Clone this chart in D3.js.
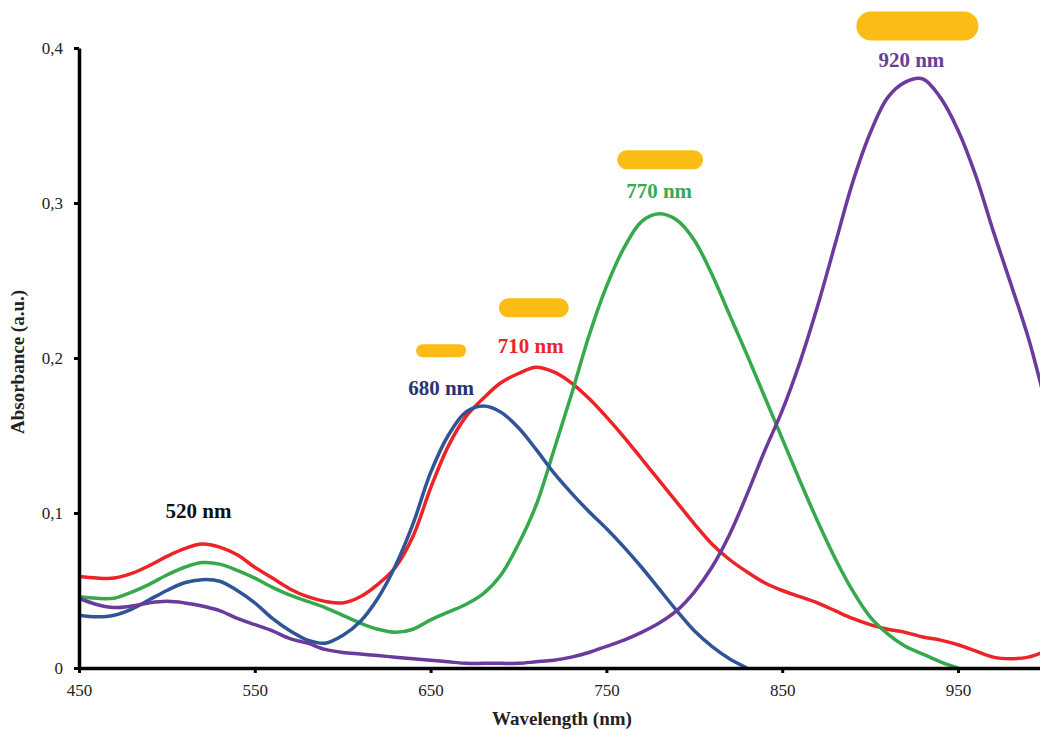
<!DOCTYPE html>
<html>
<head>
<meta charset="utf-8">
<script src="https://cdn.jsdelivr.net/npm/d3@7"></script>
<style>
  body { margin: 0; background: #fff; }
  svg { display: block; font-family: "Liberation Serif", "Times New Roman", serif; }
</style>
</head>
<body>
<div id="chart"></div>
<script>
// Data (wavelength in nm, absorbance in a.u.)
const wavelengths = [450, 460, 470, 480, 490, 500, 510, 520, 530, 540, 550, 560, 570, 580, 590,
  600, 610, 620, 630, 640, 650, 660, 670, 680, 690, 700, 710, 720, 730, 740, 750, 760, 770, 780, 790,
  800, 810, 820, 830, 840, 850, 860, 870, 880, 890, 900, 910, 920, 930, 940, 950, 960, 970, 980, 990, 1000];

const red = [0.059, 0.058, 0.058, 0.061, 0.066, 0.072, 0.077, 0.080, 0.078, 0.073, 0.065, 0.058, 0.051, 0.046, 0.043,
  0.042, 0.046, 0.054, 0.065, 0.085, 0.116, 0.143, 0.162, 0.174, 0.184, 0.190, 0.194, 0.191, 0.184, 0.174, 0.162, 0.149, 0.135, 0.121, 0.107,
  0.093, 0.080, 0.070, 0.062, 0.055, 0.050, 0.046, 0.042, 0.037, 0.032, 0.028, 0.025, 0.023, 0.020, 0.018, 0.015, 0.011, 0.007, 0.006, 0.007, 0.011];

const green = [0.046, 0.045, 0.045, 0.049, 0.054, 0.060, 0.065, 0.068, 0.067, 0.063, 0.058, 0.052, 0.047, 0.043, 0.039,
  0.034, 0.029, 0.025, 0.023, 0.025, 0.031, 0.036, 0.041, 0.048, 0.060, 0.080, 0.105, 0.140, 0.176, 0.214, 0.246, 0.271, 0.288, 0.293, 0.289,
  0.276, 0.254, 0.228, 0.202, 0.175, 0.148, 0.121, 0.095, 0.071, 0.050, 0.033, 0.022, 0.014, 0.009, 0.004, 0.000, null, null, null, null, null];

const blue = [0.034, 0.033, 0.034, 0.038, 0.044, 0.050, 0.055, 0.057, 0.056, 0.050, 0.042, 0.032, 0.024, 0.018, 0.016,
  0.021, 0.030, 0.045, 0.066, 0.093, 0.126, 0.150, 0.165, 0.169, 0.165, 0.155, 0.141, 0.126, 0.113, 0.101, 0.090, 0.078, 0.065, 0.051, 0.037,
  0.024, 0.014, 0.006, 0.000, null, null, null, null, null, null, null, null, null, null, null, null, null, null, null, null, null];

const purple = [0.045, 0.041, 0.039, 0.040, 0.042, 0.043, 0.042, 0.040, 0.037, 0.032, 0.028, 0.024, 0.019, 0.016, 0.012,
  0.010, 0.009, 0.008, 0.007, 0.006, 0.005, 0.004, 0.003, 0.003, 0.003, 0.003, 0.004, 0.005, 0.007, 0.010, 0.014, 0.018, 0.023, 0.029, 0.037,
  0.049, 0.065, 0.086, 0.112, 0.140, 0.166, 0.197, 0.233, 0.273, 0.313, 0.345, 0.368, 0.378, 0.380, 0.368, 0.347, 0.318, 0.282, 0.248, 0.213, 0.170];

const series = [
  { name: "520/710 nm", values: red, color: "#ec2327" },
  { name: "770 nm", values: green, color: "#35a94c" },
  { name: "680 nm", values: blue, color: "#2f5597" },
  { name: "920 nm", values: purple, color: "#6a3a9c" }
];

const xTicks = [450, 550, 650, 750, 850, 950];
const yTicks = [0, 0.1, 0.2, 0.3, 0.4];

// Peak labels: text, wavelength, absorbance where the text baseline sits
const peakLabels = ["520 nm", "680 nm", "710 nm", "770 nm", "920 nm"];
const peakLabelNm = [518, 656, 707, 780, 923.5];
const peakLabelAbs = [0.097, 0.176, 0.203, 0.303, 0.388];
const peakLabelColors = ["#111111", "#2b3270", "#e8262b", "#3aa955", "#6b3d9a"];
// yellow bars above labels (null = none)
const pillWidth = [null, 50, 70, 86, 122];
const pillHeight = [null, 13, 19, 19, 29];
const pillGap = [null, 38, 36, 29, 26];
const pillShift = [null, 0, 3, 1, 6];

// Layout
const W = 1040, H = 731;
const x0 = 79, y0 = 668;
const x = d3.scaleLinear().domain([450, 1050]).range([x0, x0 + 600 * 1.758]);
const y = d3.scaleLinear().domain([0, 0.4]).range([y0, 48]);

const svg = d3.select("#chart").append("svg")
  .attr("width", W).attr("height", H);

svg.append("defs").append("clipPath").attr("id", "plot")
  .append("rect").attr("x", x0).attr("y", 0).attr("width", W - x0).attr("height", y0 - 1);

// Curves
const line = d3.line()
  .defined(d => d[1] !== null)
  .x(d => x(d[0]))
  .y(d => y(d[1]))
  .curve(d3.curveCatmullRom.alpha(0.5));

const gLines = svg.append("g").attr("clip-path", "url(#plot)");
series.forEach(s => {
  const pts = wavelengths.map((w, i) => [w, s.values[i]]);
  gLines.append("path")
    .datum(pts)
    .attr("fill", "none")
    .attr("stroke", s.color)
    .attr("stroke-width", 3.5)
    .attr("stroke-linejoin", "round")
    .attr("d", line);
});

// Axes
const fmt = d => d === 0 ? "0" : d3.format(".1f")(d).replace(".", ",");

const xAxis = svg.append("g")
  .attr("transform", `translate(0,${y0})`)
  .call(d3.axisBottom(x).tickValues(xTicks).tickSize(5).tickPadding(11).tickSizeOuter(0));
xAxis.select(".domain").attr("stroke-width", 3.5);
xAxis.selectAll(".tick line").attr("stroke-width", 3);
xAxis.selectAll("text")
  .style("font-family", "Liberation Serif, serif")
  .style("font-size", "17px")
  .attr("fill", "#222");

const yAxis = svg.append("g")
  .attr("transform", `translate(${x0},0)`)
  .call(d3.axisLeft(y).tickValues(yTicks).tickFormat(fmt).tickSize(5).tickPadding(11).tickSizeOuter(0));
yAxis.select(".domain").attr("stroke-width", 3.5);
yAxis.selectAll(".tick line").attr("stroke-width", 3);
yAxis.selectAll("text")
  .style("font-family", "Liberation Serif, serif")
  .style("font-size", "17px")
  .attr("fill", "#222");

// Axis titles
svg.append("text")
  .attr("x", 562).attr("y", 725)
  .attr("text-anchor", "middle")
  .style("font-size", "19px").style("font-weight", "bold")
  .attr("fill", "#222")
  .text("Wavelength (nm)");

svg.append("text")
  .attr("transform", "translate(24,362) rotate(-90)")
  .attr("text-anchor", "middle")
  .style("font-size", "19px").style("font-weight", "bold")
  .attr("fill", "#222")
  .text("Absorbance (a.u.)");

// Peak labels and yellow bars
peakLabels.forEach((t, i) => {
  const lx = x(peakLabelNm[i]), ly = y(peakLabelAbs[i]);
  if (pillWidth[i]) {
    svg.append("rect")
      .attr("x", lx + pillShift[i] - pillWidth[i] / 2)
      .attr("y", ly - pillGap[i] - pillHeight[i])
      .attr("width", pillWidth[i])
      .attr("height", pillHeight[i])
      .attr("rx", pillHeight[i] / 2)
      .attr("fill", "#fcbc16");
  }
  svg.append("text")
    .attr("x", lx).attr("y", ly)
    .attr("text-anchor", "middle")
    .style("font-size", "21px").style("font-weight", "bold")
    .attr("fill", peakLabelColors[i])
    .text(t);
});
</script>
</body>
</html>
